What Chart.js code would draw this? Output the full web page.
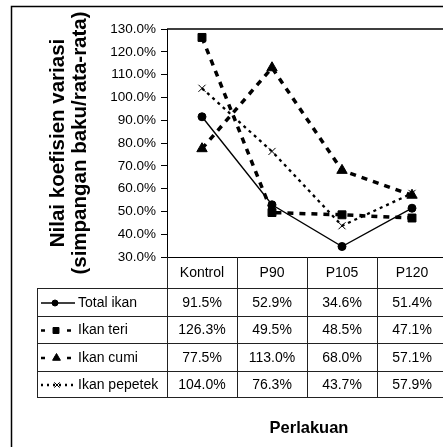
<!DOCTYPE html>
<html>
<head>
<meta charset="utf-8">
<title>Nilai koefisien variasi</title>
<script src="https://cdn.jsdelivr.net/npm/chart.js@4.4.0/dist/chart.umd.min.js"></script>
<style>
    html, body { margin: 0; padding: 0; background: #fff; overflow: hidden; }
    #wrap { position: relative; width: 470px; height: 480px; }
</style>
</head>
<body>
<div id="wrap"><canvas id="cvChart"></canvas></div>
<script>
// Data (nilai koefisien variasi, %)
const categories = ['Kontrol', 'P90', 'P105', 'P120'];
const seriesNames = ['Total ikan', 'Ikan teri', 'Ikan cumi', 'Ikan pepetek'];
const totalIkan = [91.5, 52.9, 34.6, 51.4];
const ikanTeri = [126.3, 49.5, 48.5, 47.1];
const ikanCumi = [77.5, 113.0, 68.0, 57.1];
const ikanPepetek = [104.0, 76.3, 43.7, 57.9];
const yTicks = [30, 40, 50, 60, 70, 80, 90, 100, 110, 120, 130];
const yTitle = ['Nilai koefisien variasi', '(simpangan baku/rata-rata)'];
const xTitle = 'Perlakuan';

// Layout (the picture is a crop, plot and table run past the right edge)
const FONT = "'Liberation Sans', Arial, sans-serif";
const W = 470, H = 480;
const PLOT = { left: 167, top: 29, right: 447, bottom: 257 };
const ROW_LINES = [288, 316, 343, 371, 397];
const TABLE_LEFT = 37;

// line / marker look per series, keyDash is the legend key pattern in the table
const styles = [
    { pointStyle: 'circle', radius: 4, width: 1.4, dash: [], keyDash: [], keyX: 55 },
    { pointStyle: 'rect', radius: 5.6, width: 3.5, dash: [6, 6], keyDash: [4, 9], keyX: 56 },
    { pointStyle: 'triangle', radius: 6, width: 3.5, dash: [6, 6], keyDash: [4, 9], keyX: 56.5 },
    { pointStyle: 'crossRot', radius: 5, width: 2.3, dash: [3, 4], keyDash: [2, 4], keyX: 57 }
];
const values = [totalIkan, ikanTeri, ikanCumi, ikanPepetek];

const datasets = values.map(function (v, i) {
    const s = styles[i];
    return {
        label: seriesNames[i],
        data: v,
        borderColor: '#000',
        backgroundColor: '#000',
        borderWidth: s.width,
        borderDash: s.dash,
        borderCapStyle: 'butt',
        pointStyle: s.pointStyle,
        pointRadius: s.radius,
        pointBackgroundColor: '#000',
        pointBorderColor: '#000',
        pointBorderWidth: 1,
        fill: false,
        tension: 0
    };
});

// frame, axis title and data table under the plot
const tablePlugin = {
    id: 'tablePlugin',
    afterDraw: function (chart) {
        const ctx = chart.ctx;
        const area = chart.chartArea;
        const x = chart.scales.x;
        const step = x.getPixelForValue(1) - x.getPixelForValue(0);
        const tableRight = x.getPixelForValue(categories.length - 1) + step / 2;
        const last = ROW_LINES[ROW_LINES.length - 1];

        ctx.save();
        ctx.strokeStyle = '#000';

        // outer chart border
        ctx.lineWidth = 1.5;
        ctx.strokeRect(11.5, 6.5, W, H);

        // plot area top / right and category axis line
        ctx.beginPath();
        ctx.moveTo(area.left, area.top);
        ctx.lineTo(area.right, area.top);
        ctx.lineTo(area.right, area.bottom);
        ctx.stroke();
        ctx.lineWidth = 1;
        ctx.beginPath();
        ctx.moveTo(area.left, area.bottom + 0.5);
        ctx.lineTo(tableRight, area.bottom + 0.5);
        ctx.stroke();

        // table grid
        ctx.strokeStyle = '#222';
        ctx.beginPath();
        categories.forEach(function (c, i) {
            const bx = Math.round(x.getPixelForValue(i) - step / 2) + 0.5;
            ctx.moveTo(bx, area.bottom);
            ctx.lineTo(bx, last);
        });
        ctx.moveTo(Math.round(tableRight) + 0.5, area.bottom);
        ctx.lineTo(Math.round(tableRight) + 0.5, last);
        ROW_LINES.forEach(function (ry) {
            ctx.moveTo(TABLE_LEFT, ry + 0.5);
            ctx.lineTo(tableRight, ry + 0.5);
        });
        ctx.moveTo(TABLE_LEFT + 0.5, ROW_LINES[0]);
        ctx.lineTo(TABLE_LEFT + 0.5, last);
        ctx.stroke();

        // header
        ctx.fillStyle = '#000';
        ctx.font = '14px ' + FONT;
        ctx.textAlign = 'center';
        ctx.textBaseline = 'middle';
        const headMid = (area.bottom + ROW_LINES[0]) / 2 + 1;
        categories.forEach(function (c, i) {
            ctx.fillText(c, x.getPixelForValue(i), headMid);
        });

        // rows: legend key, name, values
        chart.data.datasets.forEach(function (ds, r) {
            const s = styles[r];
            const cy = (ROW_LINES[r] + ROW_LINES[r + 1]) / 2 + 1;
            ctx.save();
            ctx.strokeStyle = '#000';
            ctx.lineWidth = Math.min(ds.borderWidth, 2.5);
            ctx.setLineDash(s.keyDash);
            ctx.beginPath();
            ctx.moveTo(41, cy);
            ctx.lineTo(75, cy);
            ctx.stroke();
            ctx.setLineDash([]);
            ctx.fillStyle = '#000';
            ctx.lineWidth = 1;
            Chart.helpers.drawPoint(ctx, {
                pointStyle: ds.pointStyle,
                radius: ds.pointRadius * 0.75,
                rotation: 0,
                borderWidth: 1
            }, s.keyX, cy);
            ctx.restore();

            ctx.textAlign = 'left';
            ctx.fillText(ds.label, 78, cy);
            ctx.textAlign = 'center';
            ds.data.forEach(function (v, i) {
                ctx.fillText(v.toFixed(1) + '%', x.getPixelForValue(i), cy);
            });
        });

        // category axis title
        ctx.font = 'bold 16.5px ' + FONT;
        ctx.fillText(xTitle, (area.left + area.right) / 2 + 2, 428);
        ctx.restore();
    }
};

new Chart(document.getElementById('cvChart'), {
    type: 'line',
    data: { labels: categories, datasets: datasets },
    options: {
        responsive: true,
        maintainAspectRatio: false,
        animation: false,
        layout: {
            padding: { left: 0, top: PLOT.top, right: W - PLOT.right, bottom: H - PLOT.bottom }
        },
        plugins: {
            legend: { display: false },
            tooltip: { enabled: false }
        },
        scales: {
            x: {
                type: 'category',
                offset: true,
                display: false
            },
            y: {
                min: 30,
                max: 130,
                afterBuildTicks: function (scale) {
                    scale.ticks = yTicks.map(function (v) { return { value: v }; });
                },
                afterFit: function (scale) {
                    scale.width = PLOT.left;
                },
                ticks: {
                    color: '#000',
                    padding: 5,
                    font: { family: FONT, size: 13.5 },
                    callback: function (value) {
                        return Number(value).toFixed(1) + '%';
                    }
                },
                grid: {
                    drawOnChartArea: false,
                    tickLength: 6,
                    tickColor: '#000',
                    color: '#000'
                },
                border: { color: '#000', width: 1 },
                title: {
                    display: true,
                    text: yTitle,
                    color: '#000',
                    padding: { top: 48, bottom: 0 },
                    font: { family: FONT, size: 20.5, weight: 'bold', lineHeight: 1.05 }
                }
            }
        }
    },
    plugins: [tablePlugin]
});
</script>
</body>
</html>
